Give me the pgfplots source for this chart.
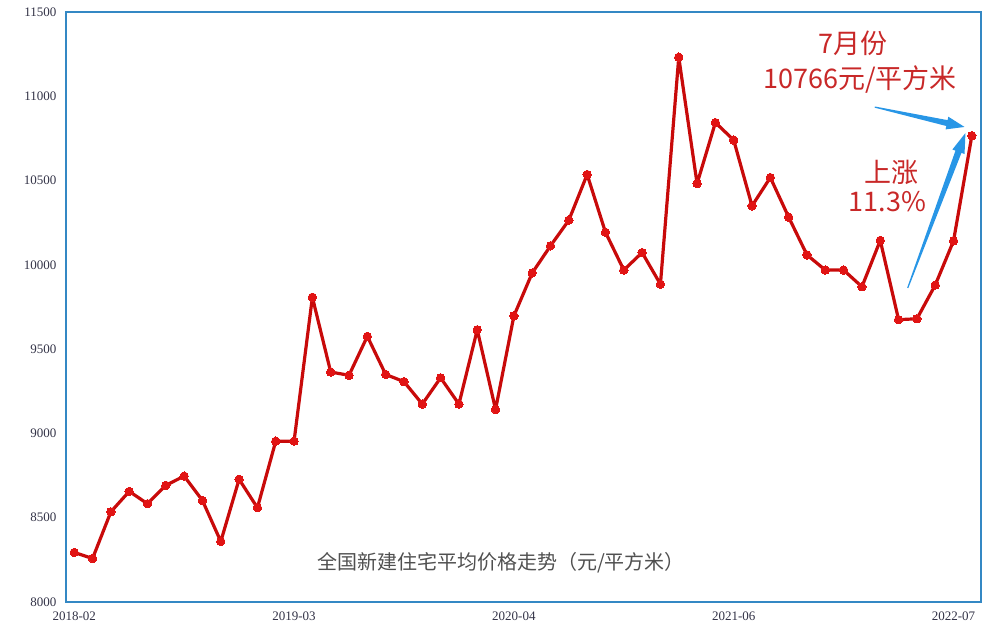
\documentclass[border=0pt]{standalone}
\usepackage{pgfplots}
\pgfplotsset{compat=1.18}
\usepackage{fontspec}
\setmainfont{Liberation Serif}
\newfontfamily\cjk{Noto Sans CJK SC}
\usetikzlibrary{calc}
\definecolor{frameblue}{RGB}{52,136,196}
\definecolor{linered}{RGB}{200,10,10}
\definecolor{markred}{RGB}{225,20,20}
\definecolor{annred}{RGB}{200,40,40}
\definecolor{arrowblue}{RGB}{40,150,230}
\definecolor{ticktext}{RGB}{50,50,70}

\pgfplotstableread{
idx price
0 8294
1 8258
2 8535
3 8656
4 8583
5 8692
6 8747
7 8602
8 8359
9 8728
10 8559
11 8954
12 8954
13 9808
14 9364
15 9345
16 9576
17 9350
18 9307
19 9174
20 9330
21 9174
22 9615
23 9142
24 9697
25 9952
26 10113
27 10265
28 10536
29 10193
30 9969
31 10073
32 9885
33 11232
34 10482
35 10844
36 10740
37 10350
38 10518
39 10283
40 10059
41 9969
42 9969
43 9870
44 10145
45 9675
46 9680
47 9880
48 10142
49 10766
}\pricedata

\begin{document}
\begin{tikzpicture}
\useasboundingbox (0pt,0pt) rectangle (1000pt,636pt);

\begin{axis}[
  at={(66pt,34pt)},
  anchor=south west,
  scale only axis,
  width=915pt,
  height=590pt,
  xmin=-0.45, xmax=49.5,
  ymin=8000, ymax=11500,
  scaled y ticks=false,
  axis line style={frameblue, line width=1.8pt},
  major tick length=0pt,
  xtick={0,12,24,36,48},
  xticklabels={2018-02,2019-03,2020-04,2021-06,2022-07},
  ytick={8000,8500,9000,9500,10000,10500,11000,11500},
  yticklabel={\pgfmathprintnumber[fixed,precision=0,1000 sep={}]{\tick}},
  /pgf/number format/assume math mode=true,
  tick label style={font=\fontsize{13}{15}\selectfont, text=ticktext},
  xticklabel style={yshift=-6pt},
  yticklabel style={xshift=-6pt},
  clip=false,
]

\addplot[
  color=linered, line width=3.2pt, line join=round,
  mark=*, mark size=4.2pt,
  mark options={fill=markred, draw=markred, line width=0pt}
] table[x=idx, y=price] {\pricedata};

% bottom caption
\node[font=\cjk\fontsize{20}{24}\selectfont, text={rgb,255:red,80;green,80;blue,80}]
  at (axis cs:23.3,8231) {全国新建住宅平均价格走势（元/平方米）};

% annotation text
\node[font=\cjk\fontsize{27}{32}\selectfont, text=annred]
  at (axis cs:42.5,11316) {7月份};
\node[font=\cjk\fontsize{27}{32}\selectfont, text=annred]
  at (axis cs:42.9,11097) {10766元/平方米};
\node[font=\cjk\fontsize{27}{32}\selectfont, text=annred]
  at (axis cs:44.6,10551) {上涨};
\node[font=\cjk\fontsize{27}{32}\selectfont, text=annred]
  at (axis cs:44.4,10373) {11.3\%};

% blue tapered arrows
\coordinate (T1) at (axis cs:43.7,10936);
\coordinate (P1) at (axis cs:48.6,10818);
\coordinate (B1) at ($(P1)!18pt!(T1)$);
\fill[arrowblue] ($(T1)!0.6pt!90:(P1)$) -- ($(B1)!3pt!90:(P1)$) -- ($(B1)!6.5pt!90:(P1)$)
  -- (P1) -- ($(B1)!6.5pt!-90:(P1)$) -- ($(B1)!3pt!-90:(P1)$) -- ($(T1)!0.6pt!-90:(P1)$) -- cycle;

\coordinate (T2) at (axis cs:45.5,9863);
\coordinate (P2) at (axis cs:48.65,10782);
\coordinate (B2) at ($(P2)!20pt!(T2)$);
\fill[arrowblue] ($(T2)!0.6pt!90:(P2)$) -- ($(B2)!3.2pt!90:(P2)$) -- ($(B2)!6.5pt!90:(P2)$)
  -- (P2) -- ($(B2)!6.5pt!-90:(P2)$) -- ($(B2)!3.2pt!-90:(P2)$) -- ($(T2)!0.6pt!-90:(P2)$) -- cycle;

\end{axis}
\end{tikzpicture}
\end{document}
